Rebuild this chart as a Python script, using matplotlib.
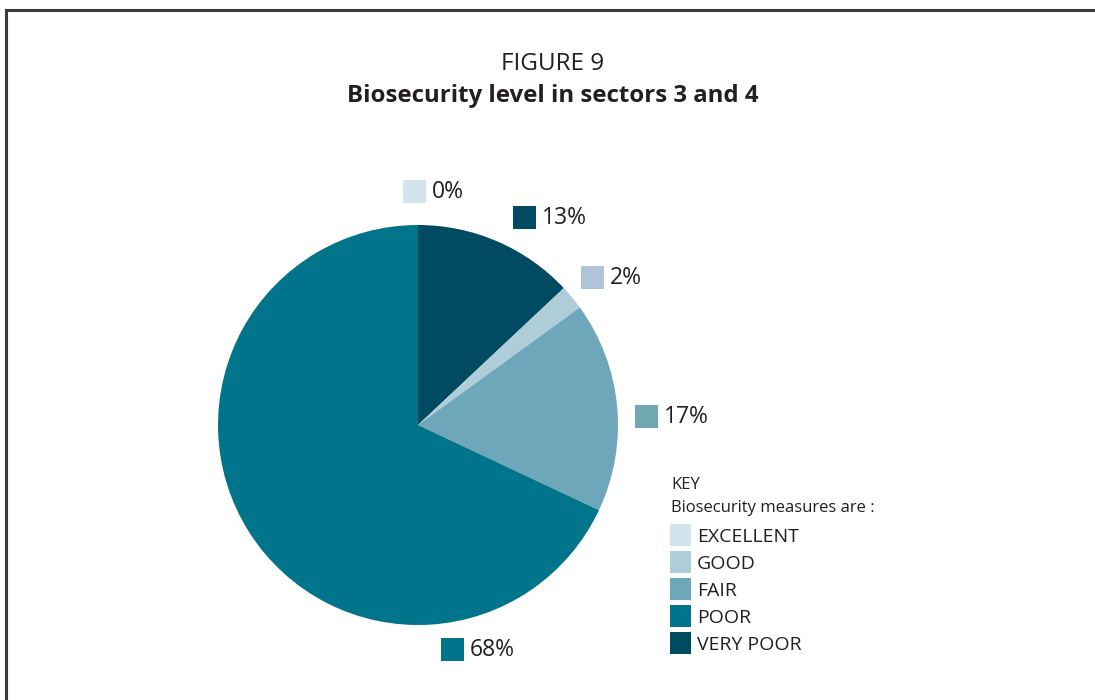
import matplotlib.pyplot as plt
from matplotlib.patches import Rectangle
from matplotlib.lines import Line2D

plt.rcParams['font.family'] = ['Open Sans', 'DejaVu Sans']

# Biosecurity levels, in the order the wedges run clockwise from the top
levels = ['EXCELLENT', 'VERY POOR', 'GOOD', 'FAIR', 'POOR']
shares = [0, 13, 2, 17, 68]
wedge_colors = ['#d2e4ec', '#004a62', '#aecdd9', '#6ea7ba', '#00748b']
label_colors = ['#d2e4ec', '#004a62', '#b1c3d7', '#70a8b2', '#00748b']

# Key entries, top to bottom
key_levels = ['EXCELLENT', 'GOOD', 'FAIR', 'POOR', 'VERY POOR']
key_colors = ['#d2e4ec', '#aecdd9', '#6ea7ba', '#00748b', '#004a62']

W, H = 1095, 700
fig = plt.figure(figsize=(W / 100, H / 100), dpi=100)


def fx(x):
    return x / W


def fy(y):
    return 1 - y / H


# outer frame (runs off the right and bottom edges)
fig.add_artist(Line2D([fx(6), fx(W + 5)], [fy(10), fy(10)], color='#3a3a3a', lw=2.2))
fig.add_artist(Line2D([fx(6), fx(6)], [fy(10), fy(H + 5)], color='#3a3a3a', lw=2.2))

fig.text(fx(553), fy(70), 'FIGURE 9', ha='center', va='baseline', fontsize=17.5, color='#231f20')
fig.text(fx(553), fy(102), 'Biosecurity level in sectors 3 and 4', ha='center', va='baseline',
         fontsize=17.3, fontweight='bold', color='#231f20')

# pie: centre (418, 425) px, radius 200 px
cx, cy, r = 418, 425, 200
ax = fig.add_axes([fx(cx - r), fy(cy + r), 2 * r / W, 2 * r / H])
ax.pie(shares, colors=wedge_colors, startangle=90, counterclock=False, radius=1,
       wedgeprops=dict(linewidth=0))
ax.set_xlim(-1, 1)
ax.set_ylim(-1, 1)
ax.axis('off')

# percentage labels: square swatch + value text (lower-left of swatch, px)
label_pos = [(403, 203), (513, 229), (581, 289), (635, 428), (441, 661)]
box = 23
for share, col, (bx, by) in zip(shares, label_colors, label_pos):
    fig.add_artist(Rectangle((fx(bx), fy(by)), box / W, box / H, transform=fig.transFigure,
                             facecolor=col, edgecolor='none'))
    fig.text(fx(bx + box + 6), fy(by - 5), f'{share}%', ha='left', va='baseline',
             fontsize=16.5, color='#231f20')

# key
fig.text(fx(671), fy(489), 'KEY', ha='left', va='baseline', fontsize=12, color='#231f20')
fig.text(fx(671), fy(512), 'Biosecurity measures are :', ha='left', va='baseline',
         fontsize=12, color='#231f20')
for i, (name, col) in enumerate(zip(key_levels, key_colors)):
    bottom = 546 + 27 * i
    fig.add_artist(Rectangle((fx(670), fy(bottom)), 21 / W, 22 / H, transform=fig.transFigure,
                             facecolor=col, edgecolor='none'))
    fig.text(fx(697), fy(bottom - 4), name, ha='left', va='baseline', fontsize=14,
             color='#231f20')

fig.savefig('out.png', dpi=100, facecolor='white')
